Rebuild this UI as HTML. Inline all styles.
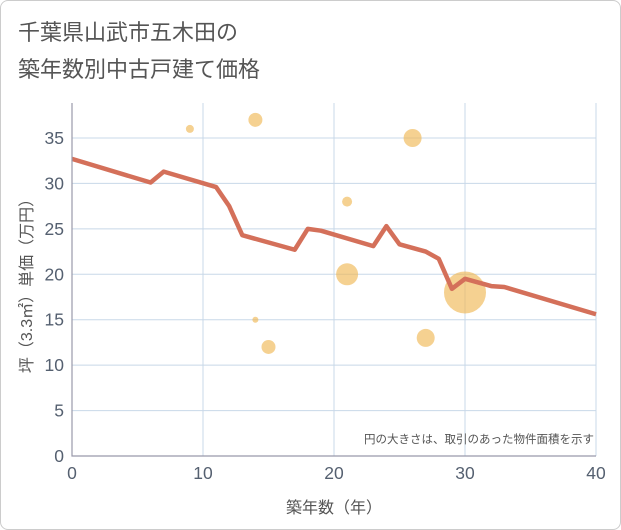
<!DOCTYPE html>
<html><head><meta charset="utf-8"><style>
body{margin:0;background:#fff;font-family:"Liberation Sans","Noto Sans CJK JP",sans-serif;}
#wrap{position:relative;width:619px;height:528px;border:1px solid #ccc;border-radius:8px;overflow:hidden;background:#fff}
</style></head><body>
<div id="wrap">
<svg id="chart" width="621" height="530" viewBox="0 0 621 530" style="position:absolute;left:-1px;top:-1px">
<text x="18" y="40" font-size="22" fill="#555">千葉県山武市五木田の</text>
<text x="18" y="77" font-size="22" fill="#555">築年数別中古戸建て価格</text>
<g id="grid"></g><g id="bubbles"></g><g id="line"></g><g id="axes"></g>
<text x="594" y="443" font-size="11.5" fill="#555" text-anchor="end">円の大きさは、取引のあった物件面積を示す</text>
<text x="334" y="513" font-size="16" fill="#555" text-anchor="middle">築年数（年）</text>
<text transform="translate(32,282) rotate(-90)" font-size="16" fill="#555" text-anchor="middle">坪（3.3㎡）単価（万円）</text>
</svg>
</div>
<script>
const xTicks=[0,10,20,30,40];
const yTicks=[0,5,10,15,20,25,30,35];
const lineYears=[0,6,7,11,12,13,17,18,19,23,24,25,27,28,29,30,32,33,40];
const linePrices=[32.7,30.1,31.3,29.6,27.5,24.3,22.7,25,24.8,23.1,25.3,23.3,22.5,21.7,18.4,19.5,18.7,18.6,15.6];
const bubbleYears=[9,14,26,21,21,14,15,27,30];
const bubblePrices=[36,37,35,28,20,15,12,13,18];
const bubbleSizes=[4,7,9,5,11,3,7,9,21];
const NS="http://www.w3.org/2000/svg";
const L=72,R=596,T=103,B=456;
const xs=v=>L+(v-0)/40*(R-L);
const ys=v=>B-v/35*318;
function mk(tag,attrs,parent){const e=document.createElementNS(NS,tag);for(const k in attrs)e.setAttribute(k,attrs[k]);document.getElementById(parent).appendChild(e);return e;}
const frame=mk('rect',{x:L,y:T,width:R-L,height:B-T,fill:'#fff',stroke:'none'},'grid');


yTicks.forEach(v=>{
 if(v>0){const g=mk('line',{x1:L,x2:R,y1:ys(v),y2:ys(v),stroke:'#c8d8e8','stroke-width':1},'grid');
 
 }
 const t=mk('text',{x:L-8,y:ys(v)+6,'font-size':17.5,fill:'#556070','text-anchor':'end'},'axes');t.textContent=v;
 
 
});
xTicks.forEach(v=>{
 if(v>0){const g=mk('line',{x1:xs(v),x2:xs(v),y1:T,y2:B,stroke:'#c8d8e8','stroke-width':1},'grid');
 
 }
 const t=mk('text',{x:xs(v),y:B+23,'font-size':17.5,fill:'#556070','text-anchor':'middle'},'axes');t.textContent=v;
 
 
});
const ax=mk('path',{d:`M${L},${T}V${B}H${R}`,fill:'none',stroke:'#99a','stroke-width':1.2},'axes');


bubbleYears.forEach((y,i)=>{
 const c=mk('circle',{cx:xs(y),cy:ys(bubblePrices[i]),r:bubbleSizes[i],fill:'#f0b856','fill-opacity':0.65},'bubbles');
 
 
});
const p=mk('polyline',{points:lineYears.map((y,i)=>xs(y)+','+ys(linePrices[i])).join(' '),fill:'none',stroke:'#d4705a','stroke-width':4.5,'stroke-linejoin':'round'},'line');


</script>
</body></html>
